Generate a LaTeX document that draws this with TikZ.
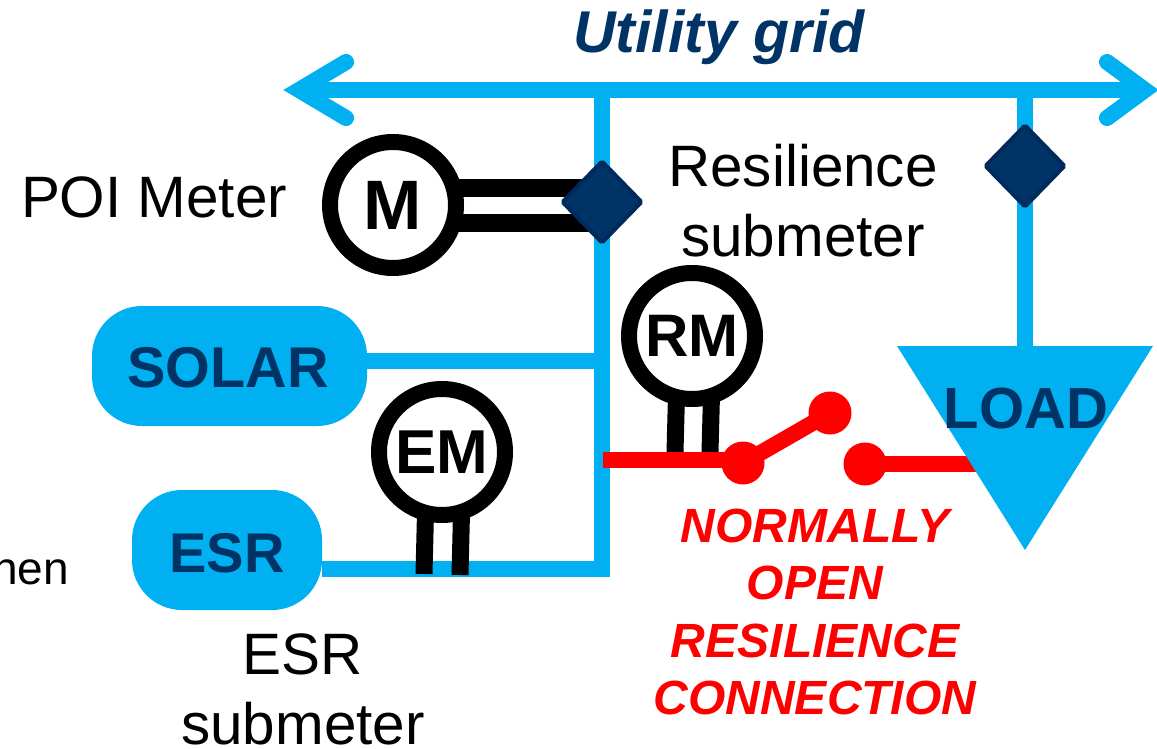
\documentclass[tikz,border=0pt]{standalone}
\usepackage{fontspec}
\setmainfont{Liberation Sans}
\usetikzlibrary{shapes.geometric,backgrounds,calc}
\definecolor{busblue}{HTML}{00B0F0}
\definecolor{navy}{HTML}{003366}
\definecolor{navyline}{HTML}{002A5C}
\definecolor{swred}{HTML}{FF0000}
\tikzset{
  plain/.style={inner sep=0,outer sep=0,font=\fontsize{58.4}{70}\selectfont,align=center},
  sourcepill/.style={inner sep=0,outer sep=0,fill=busblue,rounded corners=50pt},
  pilltext/.style={anchor=base,inner sep=0,outer sep=0,text=navy},
  meter/.style={circle,draw=black,fill=white,line width=16pt,minimum size=126pt,inner sep=0,outer sep=0,font=\fontsize{60}{60}\selectfont\bfseries},
  tap/.style={diamond,draw=navyline,fill=navy,line width=4pt,minimum width=79pt,minimum height=81pt,inner sep=0,outer sep=0,rounded corners=1.5pt},
  bus/.style={draw=busblue,line width=16pt},
  wire/.style={draw=black,line width=17pt},
  sw/.style={draw=swred,line width=16pt},
  contact/.style={circle,fill=swred,minimum size=43pt,inner sep=0,outer sep=0},
  headlbl/.style={inner sep=0,outer sep=0,text=navy,font=\fontsize{59}{59}\selectfont\bfseries\itshape},
  redlbl/.style={inner sep=0,outer sep=0,text=swred,align=center,font=\fontsize{48}{57.5}\selectfont\bfseries\itshape},
}
\begin{document}
\begin{tikzpicture}[x=1pt,y=-1pt]
\useasboundingbox (0,0) rectangle (1157,749);
% bus geometry
\coordinate (busL) at (299,90);
\coordinate (busR) at (1145,90);
\coordinate (armLa) at (346,62);
\coordinate (armLb) at (346,118);
\coordinate (armRa) at (1107,62);
\coordinate (armRb) at (1107,118);
\coordinate (jA) at (602,90);
\coordinate (jB) at (1025,90);
\coordinate (jC) at (602,361);
\coordinate (jD) at (609,569);
\coordinate (jE) at (602,577);
\coordinate (redL) at (603,460);
\coordinate (loadIn) at (985,464);
\coordinate (loadTop) at (1025,346);
% nodes
\node[tap] (poi) at (602,202) {};
\node[tap] (res) at (1025,166) {};
\node[sourcepill,minimum width=275pt,minimum height=120pt] (solar) at (229.5,366) {};
\node[pilltext,font=\fontsize{57.5}{60}\selectfont\bfseries] (solart) at (228,387) {SOLAR};
\node[sourcepill,minimum width=190pt,minimum height=120pt] (esr) at (227,550) {};
\node[pilltext,font=\fontsize{56}{60}\selectfont\bfseries] (esrt) at (227,572) {ESR};
\node[meter,font=\fontsize{70}{70}\selectfont\bfseries] (M) at (393,205) {M};
\node[meter,font=\fontsize{62}{62}\selectfont\bfseries] (EM) at (442,452) {EM};
\node[meter] (RM) at (692,336) {RM};
\node[contact] (c1) at (743,463) {};
\node[contact] (c2) at (830,413) {};
\node[contact] (c3) at (865,464) {};
% connectors behind nodes
\begin{scope}[on background layer]
  \draw[bus] (busL) -- (busR);
  \draw[bus,line cap=round,miter limit=10] (armLa) -- (busL) -- (armLb);
  \draw[bus,line cap=round,miter limit=10] (armRa) -- (busR) -- (armRb);
  \draw[bus] (jA) -- (jE);
  \draw[bus] (jB) -- (loadTop);
  \draw[bus] (solar.east |- jC) -- (jC);
  \draw[bus] (esr.east |- jD) -- (jD);
  \draw[wire,line width=18pt] (M.center |- 0,188) -- (poi.center |- 0,188);
  \draw[wire,line width=18pt] (M.center |- 0,223) -- (poi.center |- 0,223);
  \draw[wire] ($(EM.center)+(-16,40)$) -- ++(-2,82);
  \draw[wire] ($(EM.center)+(20,40)$) -- ++(-2,83);
  \draw[wire] ($(RM.center)+(-15,40)$) -- ++(-2,76);
  \draw[wire] ($(RM.center)+(20,40)$) -- ++(-2,76);
  \draw[sw] (redL) -- (redL -| c1.center);
  \draw[sw] (c1.center) -- (c2.center);
  \draw[sw] (c3.center) -- (loadIn);
\end{scope}
% load
\fill[busblue] (loadTop -| 897,0) -- (loadTop -| 1153,0) -- (1025,550) -- cycle;
\node[pilltext,font=\fontsize{58}{60}\selectfont\bfseries] (load) at (1026,428) {LOAD};
% labels
\node[headlbl,anchor=base] (grid) at (719,53) {Utility grid};
\node[plain,anchor=base west] (poil) at (21,218) {POI Meter};
\node[plain] (resl) at (803,200.5) {Resilience\\submeter};
\node[plain] (esrl) at (303,689.5) {ESR\\submeter};
\node[redlbl] (nolbl) at (815,612) {NORMALLY\\OPEN\\RESILIENCE\\CONNECTION};
\node[inner sep=0,outer sep=0,anchor=base east,font=\fontsize{46}{46}\selectfont] (cut) at (69,584) {hen};
\end{tikzpicture}
\end{document}
